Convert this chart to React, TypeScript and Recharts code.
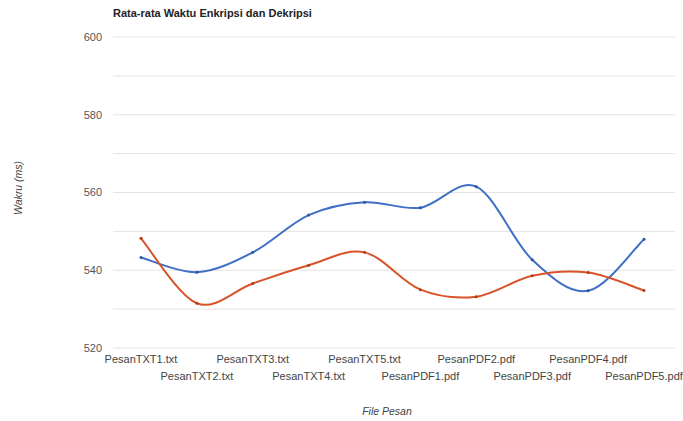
import React from 'react';
import { LineChart, Line, XAxis, YAxis, CartesianGrid } from 'recharts';

const files = [
  'PesanTXT1.txt', 'PesanTXT2.txt', 'PesanTXT3.txt', 'PesanTXT4.txt', 'PesanTXT5.txt',
  'PesanPDF1.pdf', 'PesanPDF2.pdf', 'PesanPDF3.pdf', 'PesanPDF4.pdf', 'PesanPDF5.pdf',
];
const enkripsi = [543.3, 539.5, 544.6, 554.2, 557.5, 556.1, 561.5, 542.7, 534.7, 548.0];
const dekripsi = [548.2, 531.5, 536.6, 541.3, 544.6, 535.0, 533.2, 538.6, 539.4, 534.8];
const yTicks = [520, 530, 540, 550, 560, 570, 580, 590, 600];

const data = files.map((f, i) => ({ file: f, enkripsi: enkripsi[i], dekripsi: dekripsi[i] }));

// smooth curve like google charts "function" curve (catmull-rom style)
const smoothCurve = (context: any) => {
  let pts: number[][] = [];
  return {
    areaStart() {},
    areaEnd() {},
    lineStart() { pts = []; },
    point(x: number, y: number) { pts.push([+x, +y]); },
    lineEnd() {
      const n = pts.length;
      if (!n) return;
      context.moveTo(pts[0][0], pts[0][1]);
      const k = 1 / 6;
      for (let i = 0; i < n - 1; i++) {
        const p0 = pts[i - 1] || pts[i];
        const p1 = pts[i];
        const p2 = pts[i + 1];
        const p3 = pts[i + 2] || p2;
        context.bezierCurveTo(
          p1[0] + (p2[0] - p0[0]) * k, p1[1] + (p2[1] - p0[1]) * k,
          p2[0] - (p3[0] - p1[0]) * k, p2[1] - (p3[1] - p1[1]) * k,
          p2[0], p2[1]
        );
      }
    },
  };
};

const FileTick = (props: any) => {
  const { x, y, payload, index } = props;
  const dy = index % 2 === 0 ? 7 : 24;
  return (
    <text x={x} y={y + dy} textAnchor="middle" fontSize={11} fill="#444">
      {payload.value}
    </text>
  );
};

export default function App() {
  return (
    <div style={{ position: 'absolute', left: 0, top: 0, width: 683, height: 421, fontFamily: '"Liberation Sans", Arial, sans-serif', background: '#fff' }}>
      <div style={{ position: 'absolute', left: 113, top: 7, fontSize: 11, fontWeight: 700, color: '#222', whiteSpace: 'nowrap' }}>
        Rata-rata Waktu Enkripsi dan Dekripsi
      </div>
      <div style={{ position: 'absolute', left: 18, top: 188, transform: 'translate(-50%, -50%) rotate(-90deg)', fontSize: 10.5, fontStyle: 'italic', color: '#444', whiteSpace: 'nowrap' }}>
        Wakru (ms)
      </div>
      <div style={{ position: 'absolute', left: 387, top: 411, transform: 'translate(-50%, -50%)', fontSize: 10.5, fontStyle: 'italic', color: '#444', whiteSpace: 'nowrap' }}>
        File Pesan
      </div>
      <LineChart width={683} height={421} data={data} margin={{ top: 37, right: 8, left: 0, bottom: 0 }}>
        <CartesianGrid vertical={false} stroke="#e4e4e4" />
        <XAxis dataKey="file" tick={<FileTick />} tickLine={false} axisLine={false} height={73} interval={0} padding={{ left: 28, right: 31 }} />
        <YAxis
          domain={[520, 600]}
          ticks={yTicks}
          tickFormatter={(v: number) => (v % 20 === 0 ? String(v) : '')}
          tick={{ fontSize: 11, fill: '#555' }}
          tickLine={false}
          axisLine={false}
          width={113}
          tickMargin={5}
        />
        <Line type={smoothCurve as any} dataKey="enkripsi" stroke="#3f6fc6" strokeWidth={2} dot={{ r: 1.5, fill: '#2c56a8', stroke: 'none' }} isAnimationActive={false} />
        <Line type={smoothCurve as any} dataKey="dekripsi" stroke="#d9532a" strokeWidth={2} dot={{ r: 1.5, fill: '#b23d16', stroke: 'none' }} isAnimationActive={false} />
      </LineChart>
    </div>
  );
}
